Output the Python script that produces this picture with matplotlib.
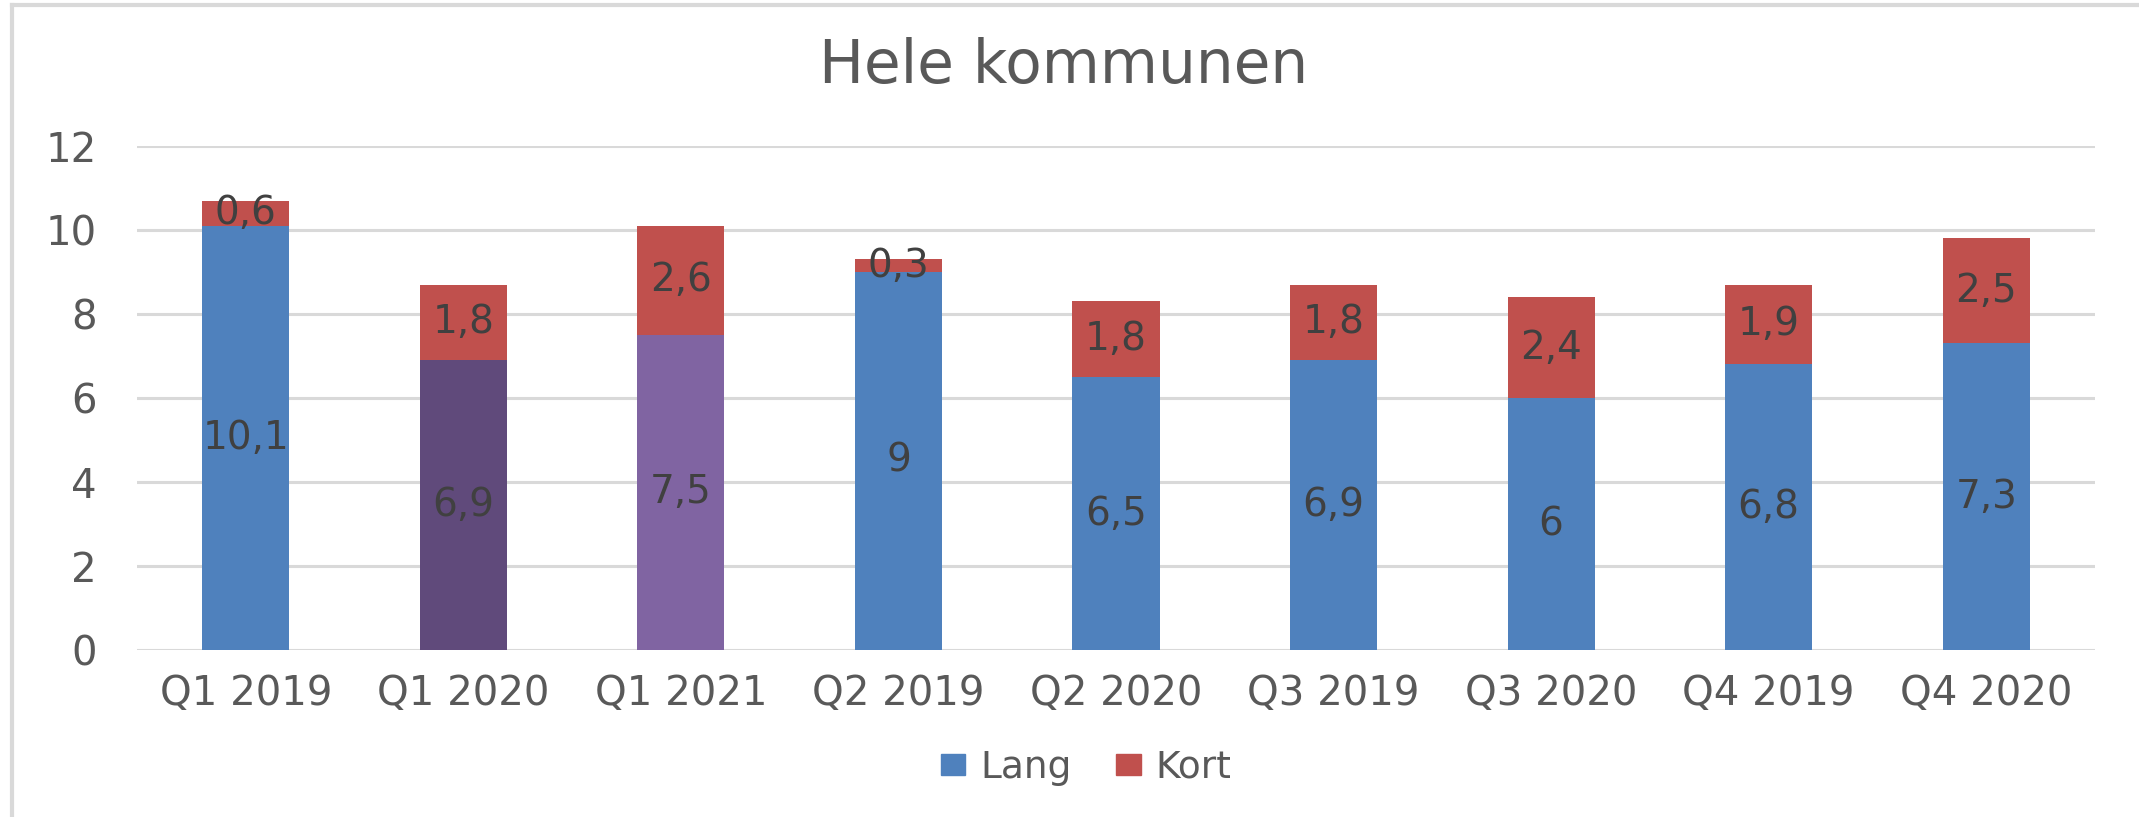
import numpy as np
import matplotlib
matplotlib.use("Agg")
import matplotlib.pyplot as plt
from matplotlib.lines import Line2D
from matplotlib.patches import Patch

# data
kvartal = ["Q1 2019", "Q1 2020", "Q1 2021", "Q2 2019", "Q2 2020",
           "Q3 2019", "Q3 2020", "Q4 2019", "Q4 2020"]
lang = [10.1, 6.9, 7.5, 9, 6.5, 6.9, 6, 6.8, 7.3]
kort = [0.6, 1.8, 2.6, 0.3, 1.8, 1.8, 2.4, 1.9, 2.5]
y_ticks = [0, 2, 4, 6, 8, 10, 12]

BLUE, RED = "#4F81BD", "#C0504D"
lang_colors = [BLUE, "#604A7B", "#8064A2"] + [BLUE] * 6
GRID = "#D9D9D9"
TXT = "#595959"

plt.rcParams["font.family"] = ["DejaVu Sans"]

W, H = 2139, 817
fig = plt.figure(figsize=(W / 100, H / 100), dpi=100, facecolor="white")
ax = fig.add_axes([137 / W, 1 - 650 / H, (2095 - 137) / W, (650 - 146) / H])

x = np.arange(len(kvartal))
w = 0.40
ax.bar(x, lang, w, color=lang_colors, zorder=3)
ax.bar(x, kort, w, bottom=lang, color=RED, zorder=3)


def fmt(v):
    s = f"{v:g}"
    return s.replace(".", ",")


for i in range(len(kvartal)):
    ax.text(x[i], lang[i] / 2, fmt(lang[i]), ha="center", va="center",
            fontsize=28, color="#404040", zorder=4)
    ax.text(x[i], lang[i] + kort[i] / 2, fmt(kort[i]), ha="center", va="center",
            fontsize=28, color="#404040", zorder=4)

ax.set_xlim(-0.5, len(kvartal) - 0.5)
ax.set_ylim(0, 12)
ax.set_yticks(y_ticks)
ax.set_yticklabels([str(t) for t in y_ticks])
ax.set_xticks(x)
ax.set_xticklabels(kvartal)
ax.tick_params(axis="both", length=0, labelsize=29, labelcolor=TXT)
ax.tick_params(axis="y", pad=29)
ax.tick_params(axis="x", pad=17)
ax.grid(axis="y", color=GRID, lw=2.2, zorder=0)
for s in ax.spines.values():
    s.set_visible(False)

fig.text(1064 / W, 1 - 66 / H, "Hele kommunen", ha="center", va="center",
         fontsize=43, color=TXT)

handles = [Patch(color=BLUE, label="Lang"), Patch(color=RED, label="Kort")]
fig.legend(handles=handles, loc="center", ncol=2, frameon=False,
           bbox_to_anchor=(1086 / W, 1 - 768 / H), fontsize=27,
           labelcolor=TXT, handlelength=0.65, handleheight=0.5,
           handletextpad=0.4, columnspacing=1.2)

# outer chart frame (only left and top edges visible)
fig.add_artist(Line2D([12 / W, 12 / W], [0, 1 - 5 / H], transform=fig.transFigure,
                      color=GRID, lw=3))
fig.add_artist(Line2D([12 / W, 1], [1 - 5 / H, 1 - 5 / H], transform=fig.transFigure,
                      color=GRID, lw=3))

fig.savefig("out.png", dpi=100, facecolor="white")
